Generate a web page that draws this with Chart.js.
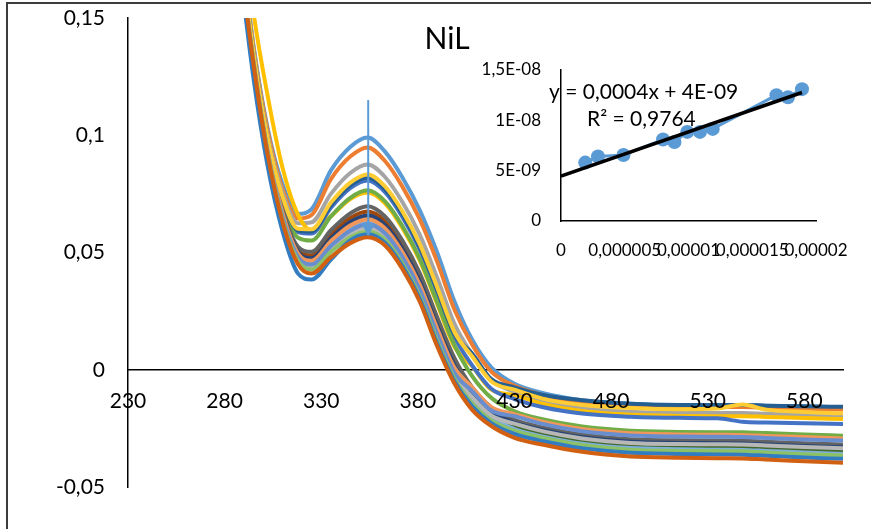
<!DOCTYPE html>
<html>
<head>
<meta charset="utf-8">
<title>NiL</title>
<script src="https://cdn.jsdelivr.net/npm/chart.js@4.4.1/dist/chart.umd.min.js"></script>
<style>
  html, body { margin: 0; padding: 0; background: #fff; }
  #wrap { position: relative; width: 871px; height: 529px; overflow: hidden; background: #fff; }
  #frame { position: absolute; left: 6px; top: 2px; width: 900px; height: 560px;
           border-left: 2px solid #3c3c3c; border-top: 2px solid #3c3c3c; }
  canvas { position: absolute; left: 0; top: 0; }
</style>
</head>
<body>
<div id="wrap">
  <div id="frame"></div>
  <canvas id="spectra" width="871" height="529"></canvas>
  <canvas id="inset" width="871" height="529"></canvas>
</div>
<script>
// Wavelengths (nm) at which each absorbance trace is sampled
const wavelengths = [288, 295, 302, 310, 318, 325, 335, 345, 354, 363, 372, 381, 390, 399, 408, 418, 430, 445, 465, 490, 515, 535, 548, 560, 580, 600];

// Absorbance traces
const nil01 = [0.185, 0.138, 0.104, 0.079, 0.0665, 0.0685, 0.085, 0.095, 0.099, 0.093, 0.082, 0.068, 0.050, 0.029, 0.013, 0.001, -0.006, -0.010, -0.013, -0.0145, -0.015, -0.015, -0.015, -0.0153, -0.0157, -0.016];
const nil02 = [0.184, 0.137, 0.103, 0.077, 0.0645, 0.066, 0.0813, 0.0909, 0.0948, 0.089, 0.0781, 0.0641, 0.046, 0.0255, 0.0109, -0.0008, -0.0069, -0.0109, -0.0139, -0.0154, -0.0159, -0.0159, -0.0159, -0.0162, -0.0166, -0.0169];
const nil03 = [0.1823, 0.1358, 0.101, 0.0754, 0.0625, 0.0629, 0.075, 0.0839, 0.0875, 0.0822, 0.0715, 0.0575, 0.0392, 0.0195, 0.0067, -0.0043, -0.0095, -0.0133, -0.0163, -0.0179, -0.0184, -0.0184, -0.0184, -0.0188, -0.0192, -0.0196];
const nil04 = [0.200, 0.152, 0.118, 0.086, 0.066, 0.0595, 0.0655, 0.0728, 0.0756, 0.071, 0.0605, 0.0465, 0.028, 0.0097, 0.0016, -0.0085, -0.0108, -0.0146, -0.0176, -0.0192, -0.0197, -0.0198, -0.0198, -0.0201, -0.0206, -0.021];
const nil05 = [0.1807, 0.1346, 0.0993, 0.0727, 0.0587, 0.0581, 0.0691, 0.0774, 0.0807, 0.0758, 0.0652, 0.0512, 0.0328, 0.0139, 0.002, -0.0081, -0.0125, -0.016, -0.0187, -0.0200, -0.0205, -0.0207, -0.0222, -0.0225, -0.0228, -0.0231];
const nil06 = [0.1797, 0.1338, 0.0982, 0.071, 0.0563, 0.0551, 0.0654, 0.0733, 0.0765, 0.0718, 0.0613, 0.0473, 0.0288, 0.0104, -0.0026, -0.012, -0.0177, -0.0212, -0.0242, -0.026, -0.0265, -0.0266, -0.0266, -0.027, -0.0276, -0.0281];
const nil07 = [0.181, 0.1348, 0.0996, 0.0732, 0.0594, 0.059, 0.0702, 0.0786, 0.082, 0.077, 0.0664, 0.0524, 0.034, 0.015, 0.007, -0.004, -0.0075, -0.0108, -0.013, -0.0145, -0.015, -0.015, -0.015, -0.0153, -0.0156, -0.0158];
const nil08 = [0.1776, 0.1321, 0.0959, 0.0674, 0.0512, 0.0488, 0.0576, 0.0647, 0.0675, 0.0634, 0.0531, 0.0391, 0.0204, 0.0031, -0.0095, -0.0178, -0.0235, -0.0267, -0.0297, -0.0316, -0.0321, -0.0323, -0.0323, -0.0328, -0.0334, -0.034];
const nil09 = [0.1781, 0.1325, 0.0964, 0.0683, 0.0524, 0.0503, 0.0595, 0.0667, 0.0697, 0.0654, 0.0551, 0.0411, 0.0224, 0.0048, -0.0074, -0.016, -0.0214, -0.0247, -0.0277, -0.0296, -0.0301, -0.0302, -0.0303, -0.0307, -0.0313, -0.0319];
const nil10 = [0.177, 0.1316, 0.0952, 0.0664, 0.0498, 0.047, 0.0554, 0.0622, 0.065, 0.061, 0.0508, 0.0368, 0.018, 0.001, -0.0106, -0.0186, -0.0237, -0.0269, -0.0299, -0.0318, -0.0323, -0.0325, -0.0326, -0.033, -0.0336, -0.0342];
const nil11 = [0.1772, 0.1318, 0.0954, 0.0667, 0.0503, 0.0476, 0.0561, 0.063, 0.0658, 0.0618, 0.0516, 0.0376, 0.0188, 0.0017, -0.0095, -0.0178, -0.0226, -0.0258, -0.0288, -0.0307, -0.0312, -0.0313, -0.0314, -0.0319, -0.0325, -0.0331];
const nil12 = [0.1762, 0.131, 0.0943, 0.065, 0.0479, 0.0446, 0.0524, 0.0589, 0.0616, 0.0578, 0.0477, 0.0337, 0.0148, -0.0018, -0.0122, -0.020, -0.0244, -0.0276, -0.0306, -0.0325, -0.033, -0.0332, -0.0332, -0.0337, -0.0343, -0.035];
const nil13 = [0.1765, 0.1312, 0.0946, 0.0655, 0.0486, 0.0455, 0.0535, 0.0601, 0.0629, 0.059, 0.0488, 0.0348, 0.016, -0.0008, -0.0124, -0.0201, -0.0253, -0.0285, -0.0315, -0.0334, -0.0339, -0.0341, -0.0342, -0.0346, -0.0353, -0.0359];
const nil14 = [0.1775, 0.132, 0.0955, 0.0668, 0.0495, 0.0465, 0.0548, 0.0615, 0.0642, 0.0603, 0.0502, 0.0362, 0.0176, 0.0008, -0.0074, -0.016, -0.0189, -0.0223, -0.0253, -0.0271, -0.0276, -0.0277, -0.0278, -0.0282, -0.0287, -0.0293];
const nil15 = [0.176, 0.1308, 0.0941, 0.0647, 0.0474, 0.044, 0.0517, 0.0581, 0.0607, 0.057, 0.0469, 0.0329, 0.014, -0.0025, -0.0116, -0.0195, -0.023, -0.0263, -0.0293, -0.0312, -0.0317, -0.0318, -0.0319, -0.0323, -0.0329, -0.0335];
const nil16 = [0.1813, 0.135, 0.0999, 0.0737, 0.0601, 0.0599, 0.0713, 0.0798, 0.0833, 0.0782, 0.0676, 0.0536, 0.0352, 0.016, 0.0058, -0.005, -0.0085, -0.0124, -0.0150, -0.0163, -0.0168, -0.0165, -0.0148, -0.0170, -0.0180, -0.0186];
const nil17 = [0.1763, 0.131, 0.0944, 0.0652, 0.0481, 0.0449, 0.0528, 0.0593, 0.062, 0.0582, 0.0481, 0.0341, 0.0152, -0.0015, -0.009, -0.0174, -0.0198, -0.0232, -0.0262, -0.028, -0.0285, -0.0286, -0.0287, -0.0291, -0.0297, -0.0302];
const nil18 = [0.1756, 0.1305, 0.0937, 0.064, 0.0464, 0.0428, 0.0502, 0.0565, 0.059, 0.0554, 0.0453, 0.0313, 0.0124, -0.0039, -0.0142, -0.0216, -0.026, -0.0291, -0.0321, -0.0341, -0.0346, -0.0347, -0.0348, -0.0353, -0.036, -0.0366];
const nil19 = [0.170, 0.124, 0.088, 0.059, 0.041, 0.0385, 0.047, 0.0552, 0.0578, 0.0542, 0.0442, 0.0302, 0.0112, -0.005, -0.0155, -0.0228, -0.0274, -0.0305, -0.0335, -0.0354, -0.0359, -0.0361, -0.0362, -0.0367, -0.0374, -0.038];
const nil20 = [0.175, 0.130, 0.093, 0.063, 0.045, 0.041, 0.048, 0.054, 0.0565, 0.053, 0.043, 0.029, 0.010, -0.006, -0.017, -0.024, -0.029, -0.032, -0.035, -0.037, -0.0375, -0.0377, -0.0378, -0.0383, -0.039, -0.0397];

const traces = [nil01, nil02, nil03, nil04, nil05, nil06, nil07, nil08, nil09, nil10,
                nil11, nil12, nil13, nil14, nil15, nil16, nil17, nil18, nil19, nil20];
const traceColors = ['#5B9BD5', '#ED7D31', '#A5A5A5', '#FFC000', '#4472C4', '#70AD47', '#255E91', '#9E480E', '#636363', '#997300',
                     '#264478', '#43682B', '#7CAFDD', '#F1975A', '#B7B7B7', '#FFCD33', '#698ED0', '#8CC168', '#327DC2', '#D26012'];

// Main axes
const xTickValues = [230, 280, 330, 380, 430, 480, 530, 580];
const xTickLabels = ['230', '280', '330', '380', '430', '480', '530', '580'];
const yTickValues = [-0.05, 0, 0.05, 0.1, 0.15];
const yTickLabels = ['-0,05', '0', '0,05', '0,1', '0,15'];

// Arrow marking the decrease of the band maximum
const arrowWavelength = 354.3;
const arrowStart = 0.115;
const arrowEnd = 0.0568;

// Inset: concentration vs. response with linear fit
const insetX = [1.9e-6, 2.9e-6, 4.9e-6, 8.0e-6, 8.9e-6, 9.9e-6, 1.09e-5, 1.19e-5, 1.69e-5, 1.78e-5, 1.89e-5];
const insetY = [5.8e-9, 6.4e-9, 6.55e-9, 8.1e-9, 7.85e-9, 8.85e-9, 8.85e-9, 9.15e-9, 1.25e-8, 1.23e-8, 1.31e-8];
const fitSlope = 0.00044;
const fitIntercept = 4.45e-9;
const fitR2 = 0.9764;
const insetXTicks = [0, 0.000005, 0.00001, 0.000015, 0.00002];
const insetXTickLabels = ['0', '0,000005', '0,00001', '0,000015', '0,00002'];
const insetYTicks = [0, 5e-9, 1e-8, 1.5e-8];
const insetYTickLabels = ['0', '5E-09', '1E-08', '1,5E-08'];

const FONT = 'Lato, "Open Sans", sans-serif';

function decimalComma(v, digits) {
  return Number(v.toPrecision(digits)).toString().replace('.', ',');
}
function excelExp(v) {
  const [m, e] = v.toExponential(0).split('e');
  const n = parseInt(e, 10);
  return m + 'E' + (n < 0 ? '-' : '+') + String(Math.abs(n)).padStart(2, '0');
}
// Keep the vertical axis from reserving label room above/below the plot
function fixedWidth(w) {
  return s => { s.width = w; s.paddingTop = 0; s.paddingBottom = 0; };
}

function build() {
  Chart.defaults.font.family = FONT;
  Chart.defaults.color = '#000';

  const spectraDecor = {
    id: 'spectraDecor',
    afterDatasetsDraw(chart) {
      const { ctx, scales: { x, y } } = chart;
      const ax = x.getPixelForValue(arrowWavelength);
      const y0 = y.getPixelForValue(arrowStart);
      const y1 = y.getPixelForValue(arrowEnd);
      ctx.save();
      ctx.strokeStyle = '#5B9BD5';
      ctx.fillStyle = '#5B9BD5';
      ctx.lineWidth = 2;
      ctx.beginPath();
      ctx.moveTo(ax, y0);
      ctx.lineTo(ax, y1 - 10);
      ctx.stroke();
      ctx.beginPath();
      ctx.moveTo(ax - 6.5, y1 - 13);
      ctx.lineTo(ax + 6.5, y1 - 13);
      ctx.lineTo(ax, y1);
      ctx.closePath();
      ctx.fill();
      ctx.fillStyle = '#000';
      ctx.font = '30px ' + FONT;
      ctx.textAlign = 'center';
      ctx.textBaseline = 'middle';
      ctx.fillText('NiL', 447, 39);
      ctx.restore();
    }
  };

  new Chart(document.getElementById('spectra'), {
    type: 'line',
    data: {
      datasets: traces.map((vals, i) => ({
        label: 'NiL ' + (i + 1),
        data: wavelengths.map((w, k) => ({ x: w, y: vals[k] })),
        borderColor: traceColors[i],
        backgroundColor: traceColors[i],
        borderWidth: 4,
        pointRadius: 0,
        fill: false,
        tension: 0.4,
        cubicInterpolationMode: 'monotone',
        order: -i,
        clip: 0
      }))
    },
    options: {
      responsive: false,
      animation: false,
      events: [],
      layout: { padding: { left: 28, right: 28, top: 18, bottom: 42 } },
      plugins: { legend: { display: false }, tooltip: { enabled: false }, title: { display: false } },
      scales: {
        x: {
          type: 'linear',
          min: 230,
          max: 600,
          position: { y: 0 },
          afterFit: s => { s.height = 0; },
          grid: { display: false, drawTicks: false },
          border: { display: true, color: '#000', width: 1.5 },
          afterBuildTicks: s => { s.ticks = xTickValues.map(v => ({ value: v })); },
          ticks: {
            z: 1,
            autoSkip: false, maxRotation: 0, padding: 19,
            font: { size: 21, family: FONT }, color: '#000',
            callback: (v, i) => xTickLabels[i]
          }
        },
        y: {
          type: 'linear',
          min: -0.05,
          max: 0.15,
          position: 'left',
          afterFit: fixedWidth(100),
          grid: { display: false, drawTicks: false },
          border: { display: true, color: '#000', width: 1.5 },
          afterBuildTicks: s => { s.ticks = yTickValues.map(v => ({ value: v })); },
          ticks: {
            autoSkip: false, padding: 23,
            font: { size: 21, family: FONT }, color: '#000',
            callback: (v, i) => yTickLabels[i]
          }
        }
      }
    },
    plugins: [spectraDecor]
  });

  const fitEnd = insetX[insetX.length - 1];
  const equationText = 'y = ' + decimalComma(fitSlope, 1) + 'x + ' + excelExp(fitIntercept);
  const r2Text = 'R\u00B2 = ' + decimalComma(fitR2, 4);

  const insetDecor = {
    id: 'insetDecor',
    afterDatasetsDraw(chart) {
      const { ctx, chartArea } = chart;
      ctx.save();
      ctx.fillStyle = '#000';
      ctx.font = '21px ' + FONT;
      ctx.textAlign = 'left';
      ctx.textBaseline = 'middle';
      ctx.fillText(equationText, chartArea.left - 12, 92);
      ctx.fillText(r2Text, chartArea.left + 26, 119);
      ctx.restore();
    }
  };

  new Chart(document.getElementById('inset'), {
    type: 'line',
    data: {
      datasets: [
        {
          label: 'Linear fit',
          data: [{ x: 0, y: fitIntercept }, { x: fitEnd, y: fitSlope * fitEnd + fitIntercept }],
          borderColor: '#000',
          borderWidth: 3.5,
          pointRadius: 0,
          fill: false,
          tension: 0,
          order: 0
        },
        {
          label: 'Response',
          data: insetX.map((v, i) => ({ x: v, y: insetY[i] })),
          borderColor: '#5B9BD5',
          backgroundColor: '#5B9BD5',
          borderWidth: 3,
          pointRadius: 7,
          pointBorderWidth: 0,
          fill: false,
          tension: 0,
          order: 1
        }
      ]
    },
    options: {
      responsive: false,
      animation: false,
      events: [],
      layout: { padding: { left: 461, right: 55, top: 70, bottom: 308 } },
      plugins: { legend: { display: false }, tooltip: { enabled: false } },
      scales: {
        x: {
          type: 'linear',
          min: 0,
          max: 0.00002,
          position: { y: 0 },
          afterFit: s => { s.height = 0; },
          grid: { display: false, drawTicks: false },
          border: { display: true, color: '#000', width: 1.5 },
          afterBuildTicks: s => { s.ticks = insetXTicks.map(v => ({ value: v })); },
          ticks: {
            autoSkip: false, maxRotation: 0, padding: 19,
            font: { size: 17, family: FONT }, color: '#000',
            callback: (v, i) => insetXTickLabels[i]
          }
        },
        y: {
          type: 'linear',
          min: 0,
          max: 1.5e-8,
          position: 'left',
          afterFit: fixedWidth(100),
          grid: { display: false, drawTicks: false },
          border: { display: true, color: '#000', width: 1.5 },
          afterBuildTicks: s => { s.ticks = insetYTicks.map(v => ({ value: v })); },
          ticks: {
            autoSkip: false, padding: 20,
            font: { size: 17, family: FONT }, color: '#000',
            callback: (v, i) => insetYTickLabels[i]
          }
        }
      }
    },
    plugins: [insetDecor]
  });
}

const fontsReady = (document.fonts && document.fonts.load)
  ? Promise.all([document.fonts.load('21px Lato'), document.fonts.load('30px Lato')]).catch(() => {})
  : Promise.resolve();
fontsReady.then(build);
</script>
</body>
</html>
